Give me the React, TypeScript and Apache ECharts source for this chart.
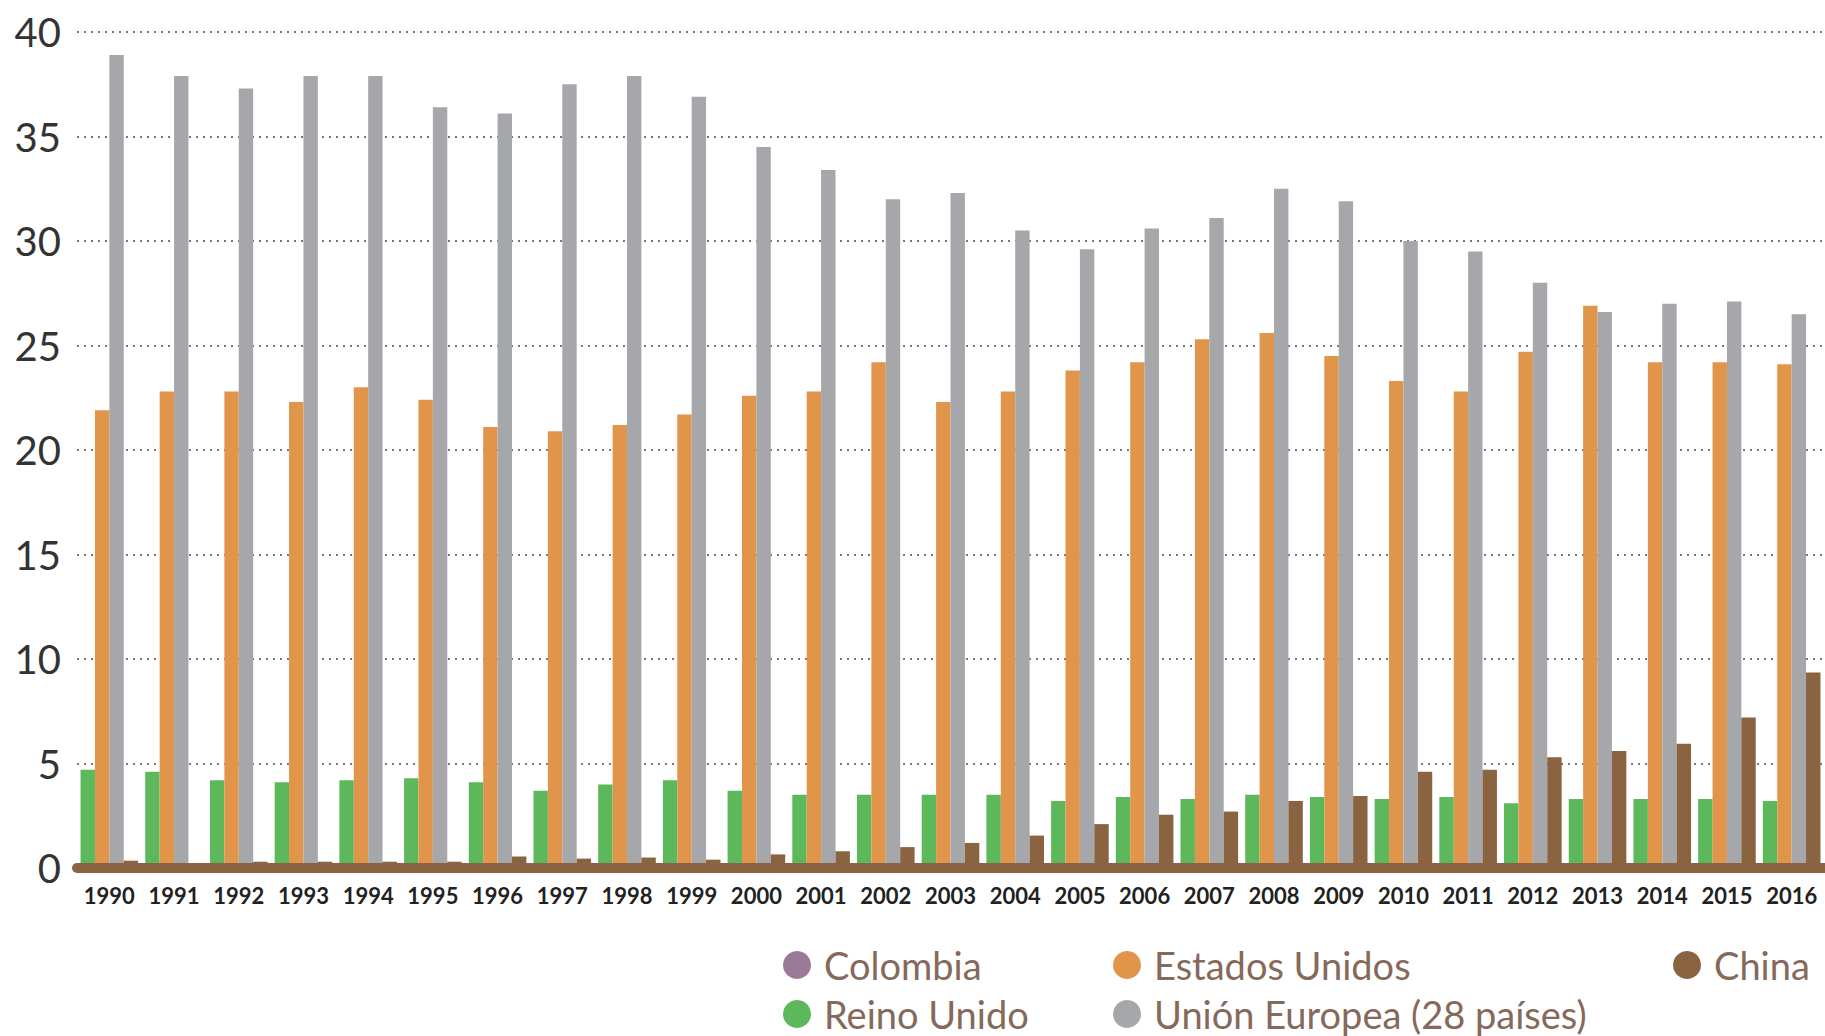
import React, { useEffect, useRef } from "react";
import * as echarts from "echarts";

const years = [
  "1990", "1991", "1992", "1993", "1994", "1995", "1996", "1997", "1998", "1999",
  "2000", "2001", "2002", "2003", "2004", "2005", "2006", "2007", "2008", "2009",
  "2010", "2011", "2012", "2013", "2014", "2015", "2016",
];

// Colombia: no visible bars in the reference
const colombia: (number | null)[] = [];

const reinoUnido = [
  4.7, 4.6, 4.2, 4.1, 4.2, 4.3, 4.1, 3.7, 4.0, 4.2,
  3.7, 3.5, 3.5, 3.5, 3.5, 3.2, 3.4, 3.3, 3.5, 3.4,
  3.3, 3.4, 3.1, 3.3, 3.3, 3.3, 3.2,
];

const estadosUnidos = [
  21.9, 22.8, 22.8, 22.3, 23.0, 22.4, 21.1, 20.9, 21.2, 21.7,
  22.6, 22.8, 24.2, 22.3, 22.8, 23.8, 24.2, 25.3, 25.6, 24.5,
  23.3, 22.8, 24.7, 26.9, 24.2, 24.2, 24.1,
];

const unionEuropea = [
  38.9, 37.9, 37.3, 37.9, 37.9, 36.4, 36.1, 37.5, 37.9, 36.9,
  34.5, 33.4, 32.0, 32.3, 30.5, 29.6, 30.6, 31.1, 32.5, 31.9,
  30.0, 29.5, 28.0, 26.6, 27.0, 27.1, 26.5,
];

const china = [
  0.35, 0.2, 0.3, 0.3, 0.3, 0.3, 0.55, 0.45, 0.5, 0.4,
  0.65, 0.8, 1.0, 1.2, 1.55, 2.1, 2.55, 2.7, 3.2, 3.45,
  4.6, 4.7, 5.3, 5.6, 5.95, 7.2, 9.35,
];

const yTicks = { min: 0, max: 40, interval: 5 };

const C_COLOMBIA = "#9a7a96";
const C_RU = "#5cb85b";
const C_US = "#e0954b";
const C_UE = "#a6a7ab";
const C_CN = "#8a6341";

export default function App() {
  const ref = useRef<HTMLDivElement>(null);

  useEffect(() => {
    if (!ref.current) return;
    const chart = echarts.init(ref.current, undefined, { renderer: "svg" });

    const legendText = {
      color: "#85695a",
      fontFamily: "Lato",
      fontSize: 38,
      lineHeight: 36,
      padding: [0, 0, 0, 8],
    };
    const legendCommon = {
      orient: "horizontal" as const,
      icon: "circle",
      itemWidth: 28,
      itemHeight: 28,
      padding: 0,
      selectedMode: false,
      textStyle: legendText,
    };
    const ROW1 = 946;
    const ROW2 = 995;

    const barCommon = {
      type: "bar" as const,
      barWidth: 14.4,
      barGap: "0%",
    };

    chart.setOption({
      animation: false,
      backgroundColor: "#ffffff",
      grid: { left: 77, right: 1, top: 32, bottom: 168, containLabel: false },
      legend: [
        { ...legendCommon, left: 783, top: ROW1, data: ["Colombia"] },
        { ...legendCommon, left: 783, top: ROW2, data: ["Reino Unido"] },
        { ...legendCommon, left: 1113, top: ROW1, data: ["Estados Unidos"] },
        { ...legendCommon, left: 1113, top: ROW2, data: ["Unión Europea (28 países)"] },
        { ...legendCommon, left: 1673, top: ROW1, data: ["China"] },
      ],
      xAxis: {
        type: "category",
        data: years,
        z: 10,
        axisLine: { show: true, lineStyle: { color: C_CN, width: 10 } },
        axisTick: { show: false },
        axisLabel: {
          color: "#222",
          fontFamily: "Lato",
          fontSize: 22,
          fontWeight: "bold",
          margin: 16,
          interval: 0,
        },
      },
      yAxis: {
        type: "value",
        min: yTicks.min,
        max: yTicks.max,
        interval: yTicks.interval,
        axisLine: { show: false },
        axisTick: { show: false },
        axisLabel: {
          color: "#333",
          fontFamily: "Lato",
          fontSize: 40,
          margin: 16,
        },
        splitLine: {
          show: true,
          lineStyle: { color: "#777", width: 2, type: [2, 5] },
        },
      },
      series: [
        {
          name: "Colombia",
          type: "line",
          data: colombia,
          symbol: "none",
          itemStyle: { color: C_COLOMBIA },
          lineStyle: { color: C_COLOMBIA },
        },
        { ...barCommon, name: "Reino Unido", data: reinoUnido, itemStyle: { color: C_RU } },
        { ...barCommon, name: "Estados Unidos", data: estadosUnidos, itemStyle: { color: C_US } },
        { ...barCommon, name: "Unión Europea (28 países)", data: unionEuropea, itemStyle: { color: C_UE } },
        { ...barCommon, name: "China", data: china, itemStyle: { color: C_CN } },
      ],
    });

    return () => chart.dispose();
  }, []);

  return (
    <div
      ref={ref}
      style={{ position: "fixed", left: 0, top: 0, width: 1825, height: 1036, background: "#fff" }}
    />
  );
}
